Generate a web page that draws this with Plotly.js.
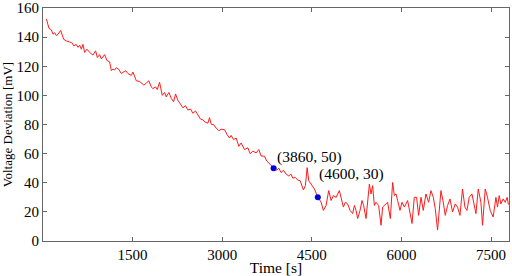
<!DOCTYPE html>
<html>
<head>
<meta charset="utf-8">
<script src="https://cdn.plot.ly/plotly-3.0.1.min.js"></script>
<style>
  html, body { margin: 0; padding: 0; background: #fff; }
  #graph { width: 512px; height: 276px; }
</style>
</head>
<body>
<div id="graph"></div>
<script>
// voltage deviation trace
var timeS = [57, 100, 140, 167, 196, 224, 251, 296, 346, 391, 446, 492, 513, 558, 585, 614, 642, 669, 697, 736,
  781, 836, 881, 910, 948, 976, 1032, 1070, 1115, 1144, 1170, 1199, 1227, 1266, 1311, 1338, 1383, 1421, 1478, 1505,
  1562, 1617, 1662, 1689, 1729, 1772, 1813, 1839, 1884, 1913, 1951, 1996, 2035, 2063, 2107, 2147, 2185, 2219, 2257, 2297,
  2341, 2386, 2424, 2470, 2508, 2553, 2592, 2632, 2675, 2715, 2759, 2787, 2816, 2859, 2899, 2943, 2983, 3038, 3083, 3122,
  3150, 3189, 3234, 3277, 3317, 3373, 3428, 3468, 3511, 3568, 3612, 3652, 3707, 3745, 3802, 3860, 3912, 3946, 3986, 4025,
  4070, 4113, 4153, 4180, 4225, 4264, 4304, 4337, 4359, 4392, 4421, 4448, 4488, 4543, 4600, 4655, 4693, 4738, 4782, 4822,
  4860, 4906, 4961, 4990, 5028, 5061, 5100, 5140, 5183, 5212, 5240, 5267, 5307, 5340, 5367, 5407, 5434, 5463, 5491, 5518,
  5546, 5574, 5618, 5658, 5685, 5730, 5768, 5814, 5852, 5881, 5909, 5936, 5976, 6009, 6048, 6103, 6143, 6177, 6215, 6253,
  6287, 6327, 6365, 6410, 6454, 6494, 6533, 6566, 6604, 6633, 6661, 6700, 6733, 6772, 6812, 6855, 6900, 6939, 6979, 7022,
  7062, 7096, 7134, 7180, 7218, 7247, 7285, 7330, 7357, 7402, 7440, 7485, 7535, 7581, 7608, 7636, 7664, 7703, 7736, 7770, 7790];
var voltMV = [152.5, 146, 145, 142, 143, 141, 142, 144.6, 138.5, 137.4, 136.7, 135.8, 134, 135, 133, 134.5, 131.7, 135, 129.5, 131.7,
  129.5, 127.7, 130.6, 126, 128, 125, 128, 124, 123, 117, 118, 117.5, 119, 118, 115, 116, 117, 115, 113.7, 116,
  110, 109.6, 108, 107, 108.5, 110, 105.8, 104.6, 105.8, 104, 109, 100, 102, 99, 102, 98, 95.6, 101, 96.7, 94.4,
  91.5, 92.9, 90, 90.6, 87.7, 89.3, 86.6, 83.9, 83.2, 81.6, 80.9, 84.7, 80.2, 79.8, 77.5, 75.7, 76.8, 76.4, 73, 70.7,
  72.5, 69.6, 70.7, 65, 67.3, 62.8, 64, 59.9, 61.7, 60.5, 62.8, 58.3, 58.3, 54.9, 52.7, 50, 48.6, 50, 47, 48.6,
  45.9, 44.7, 45.9, 43.2, 43.6, 41.8, 41.4, 38, 35, 38, 50.4, 41.4, 39, 35.7, 30, 26.6, 21, 24.4, 34.6, 27.8,
  31.2, 30, 34.6, 30, 23.3, 26.6, 25.5, 21, 18.8, 24.4, 21, 15.4, 21, 27.8, 24.4, 15.4, 25.5, 39.1, 32.3, 38,
  24.4, 26.6, 24.4, 10.8, 23.3, 25.5, 26.6, 15.4, 40.2, 31.2, 32.3, 27.8, 21, 26.6, 23.3, 27.8, 18.8, 12, 30, 30,
  17.6, 30, 21, 32.3, 26.6, 34.6, 30, 22.2, 7.5, 24.4, 34.6, 26.6, 17.6, 24.4, 28.9, 19.9, 25.5, 23.3, 17.6, 35.7,
  23.3, 21, 30, 32.3, 23.3, 18.8, 35.7, 26.6, 10.8, 35.7, 30, 21, 16.5, 30, 23.3, 31.2, 25.5, 28.9, 26.6, 30, 25];

// highlighted points
var markTime = [3860, 4600];
var markVolt = [50, 30];
var markLabels = ["(3860, 50)", "(4600, 30)"];
var labelTime = [3880, 4590];
var labelVolt = [57.5, 46];

var xTicks = [1500, 3000, 4500, 6000, 7500];
var yTicks = [0, 20, 40, 60, 80, 100, 120, 140, 160];

var serif = "Liberation Serif, Times New Roman, serif";

var traces = [
  {
    x: timeS, y: voltMV,
    mode: "lines", type: "scatter",
    line: { color: "#ff1a1a", width: 1 },
    showlegend: false
  },
  {
    x: markTime, y: markVolt,
    mode: "markers", type: "scatter",
    marker: { color: "#0000e0", size: 6 },
    showlegend: false
  }
];

var annots = markLabels.map(function (t, i) {
  return {
    x: labelTime[i], y: labelVolt[i], xref: "x", yref: "y",
    text: t, showarrow: false, xanchor: "left", yanchor: "middle",
    font: { family: serif, size: 15.5, color: "#000" }
  };
});

var axisCommon = {
  showgrid: false, zeroline: false,
  showline: true, linecolor: "#666", linewidth: 1, mirror: "ticks",
  ticks: "inside", ticklen: 4, tickcolor: "#666",
  ticklabeloverflow: "allow",
  tickfont: { family: serif, size: 15, color: "#000" }
};

var layout = {
  width: 512, height: 276,
  margin: { l: 43, r: 3, t: 8, b: 35 },
  paper_bgcolor: "#fff", plot_bgcolor: "#fff",
  xaxis: Object.assign({}, axisCommon, {
    range: [0, 7800], tickvals: xTicks,
    title: { text: "Time [s]", font: { family: serif, size: 15.5, color: "#000" }, standoff: 1 }
  }),
  yaxis: Object.assign({}, axisCommon, {
    range: [0, 160], tickvals: yTicks,
    title: { text: "Voltage Deviation [mV]", font: { family: serif, size: 13, color: "#000" }, standoff: 5 }
  }),
  annotations: annots
};

Plotly.newPlot("graph", traces, layout, { staticPlot: true });
</script>
</body>
</html>
